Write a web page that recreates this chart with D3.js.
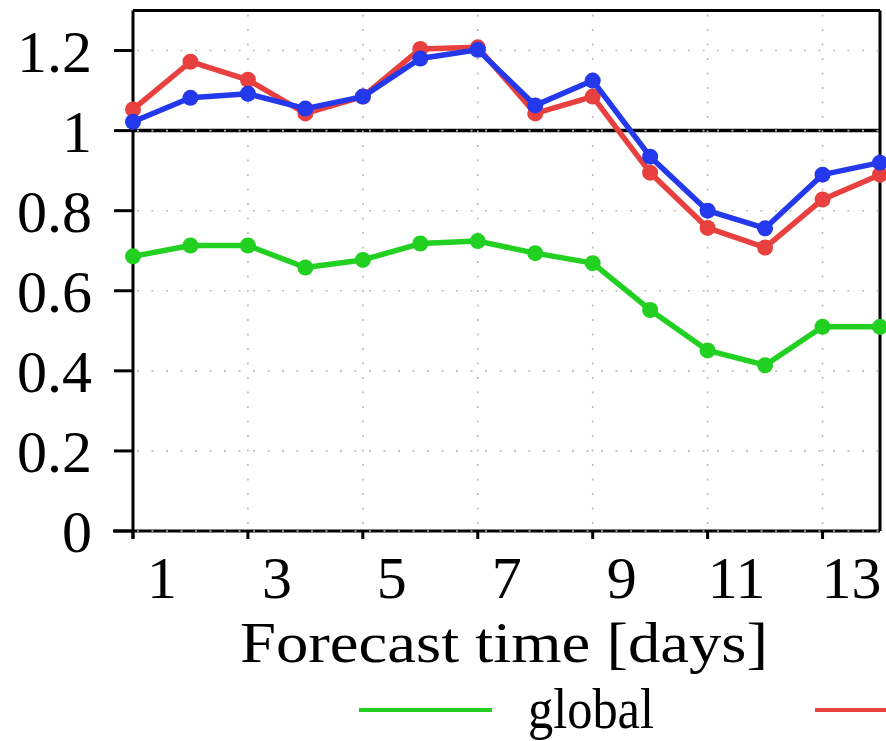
<!DOCTYPE html>
<html>
<head>
<meta charset="utf-8">
<script src="https://cdn.jsdelivr.net/npm/d3@7"></script>
<style>
  body { margin: 0; background: #fff; }
  svg { display: block; }
  text { font-family: "Liberation Serif", "Times New Roman", serif; fill: #000; }
</style>
</head>
<body>
<div id="chart"></div>
<script>
// forecast days and the three series
const days = [1, 2, 3, 4, 5, 6, 7, 8, 9, 10, 11, 12, 13, 14];
const globalVals = [0.686, 0.713, 0.713, 0.658, 0.677, 0.718, 0.724, 0.694, 0.669, 0.552, 0.451, 0.414, 0.510, 0.510];
const redVals    = [1.053, 1.172, 1.127, 1.043, 1.085, 1.204, 1.208, 1.043, 1.085, 0.895, 0.757, 0.708, 0.828, 0.890];
const blueVals   = [1.022, 1.082, 1.092, 1.055, 1.085, 1.180, 1.202, 1.063, 1.125, 0.935, 0.800, 0.756, 0.890, 0.920];
const xTicks = [1, 3, 5, 7, 9, 11, 13];
const yTicks = [0, 0.2, 0.4, 0.6, 0.8, 1, 1.2];
const xTitle = "Forecast time [days]";
const legendNames = ["global"];

const width = 886, height = 741;

const svg = d3.select("#chart").append("svg")
  .attr("width", width)
  .attr("height", height);

const x = d3.scaleLinear().domain([1, 14]).range([133, 880]);
const y = d3.scaleLinear().domain([0, 1.3]).range([531, 10.5]);

// frame + axes
const frame = svg.append("g").attr("stroke", "#000").attr("stroke-width", 3);
frame.append("line") // top
  .attr("x1", x(1)).attr("x2", x(14)).attr("y1", y(1.3)).attr("y2", y(1.3));
frame.append("line") // right
  .attr("x1", x(14)).attr("x2", x(14)).attr("y1", y(1.3)).attr("y2", y(0));
frame.append("line") // left
  .attr("x1", x(1)).attr("x2", x(1)).attr("y1", y(1.3)).attr("y2", y(0) + 8);
frame.append("line") // bottom
  .attr("x1", x(1) - 20).attr("x2", x(14)).attr("y1", y(0)).attr("y2", y(0));
frame.append("line") // reference at 1
  .attr("x1", x(1)).attr("x2", x(14)).attr("y1", y(1)).attr("y2", y(1))
  .attr("stroke-width", 3.5);

// dotted grid
const grid = svg.append("g").attr("class", "grid");
grid.selectAll(".gy").data(yTicks).join("line")
  .attr("class", "gy")
  .attr("x1", x(1) + 4).attr("x2", x(14))
  .attr("y1", d => y(d)).attr("y2", d => y(d))
  .attr("stroke", "#bbb").attr("stroke-width", 1.6)
  .attr("stroke-dasharray", "2,12.5");
grid.selectAll(".gx").data(xTicks.slice(1)).join("line")
  .attr("class", "gx")
  .attr("x1", d => x(d)).attr("x2", d => x(d))
  .attr("y1", y(1.3) + 4).attr("y2", y(0))
  .attr("stroke", "#bbb").attr("stroke-width", 1.6)
  .attr("stroke-dasharray", "2,12.5");

// y ticks and labels
const yAxis = svg.append("g");
yAxis.selectAll("line").data(yTicks).join("line")
  .attr("x1", x(1) - 19).attr("x2", x(1))
  .attr("y1", d => y(d)).attr("y2", d => y(d))
  .attr("stroke", "#000").attr("stroke-width", 3);
yAxis.selectAll("text").data(yTicks).join("text")
  .attr("x", 92)
  .attr("y", d => y(d) + 21)
  .attr("text-anchor", "end")
  .attr("font-size", 60)
  .text(d => d3.format("")(d));

// x ticks and labels
const xAxis = svg.append("g");
xAxis.selectAll("line").data(xTicks).join("line")
  .attr("x1", d => x(d)).attr("x2", d => x(d))
  .attr("y1", y(0)).attr("y2", y(0) + 8)
  .attr("stroke", "#000").attr("stroke-width", 3);
xAxis.selectAll("text").data(xTicks).join("text")
  .attr("x", d => x(d) + 29)
  .attr("y", 598)
  .attr("text-anchor", "middle")
  .attr("font-size", 60)
  .text(d => d);

svg.append("text")
  .attr("x", 240).attr("y", 662)
  .attr("font-size", 58)
  .attr("textLength", 528)
  .attr("lengthAdjust", "spacingAndGlyphs")
  .text(xTitle);

// series
const series = [
  { vals: globalVals, color: "#22d022" },
  { vals: redVals, color: "#e8403f" },
  { vals: blueVals, color: "#2438ec" }
];

const line = d3.line()
  .x(d => x(d.day))
  .y(d => y(d.v));

series.forEach(s => {
  const pts = days.map((d, i) => ({ day: d, v: s.vals[i] }));
  const g = svg.append("g");
  g.append("path")
    .datum(pts)
    .attr("d", line)
    .attr("fill", "none")
    .attr("stroke", s.color)
    .attr("stroke-width", 5.5)
    .attr("stroke-linejoin", "round");
  g.selectAll("circle").data(pts).join("circle")
    .attr("cx", d => x(d.day))
    .attr("cy", d => y(d.v))
    .attr("r", 8)
    .attr("fill", s.color);
});

// legend (cut off at the right edge)
svg.append("line")
  .attr("x1", 359).attr("x2", 492).attr("y1", 710).attr("y2", 710)
  .attr("stroke", series[0].color).attr("stroke-width", 4);
svg.append("text")
  .attr("x", 528).attr("y", 728)
  .attr("font-size", 56)
  .attr("textLength", 126)
  .attr("lengthAdjust", "spacingAndGlyphs")
  .text(legendNames[0]);
svg.append("line")
  .attr("x1", 815).attr("x2", 950).attr("y1", 710).attr("y2", 710)
  .attr("stroke", series[1].color).attr("stroke-width", 4);
</script>
</body>
</html>
